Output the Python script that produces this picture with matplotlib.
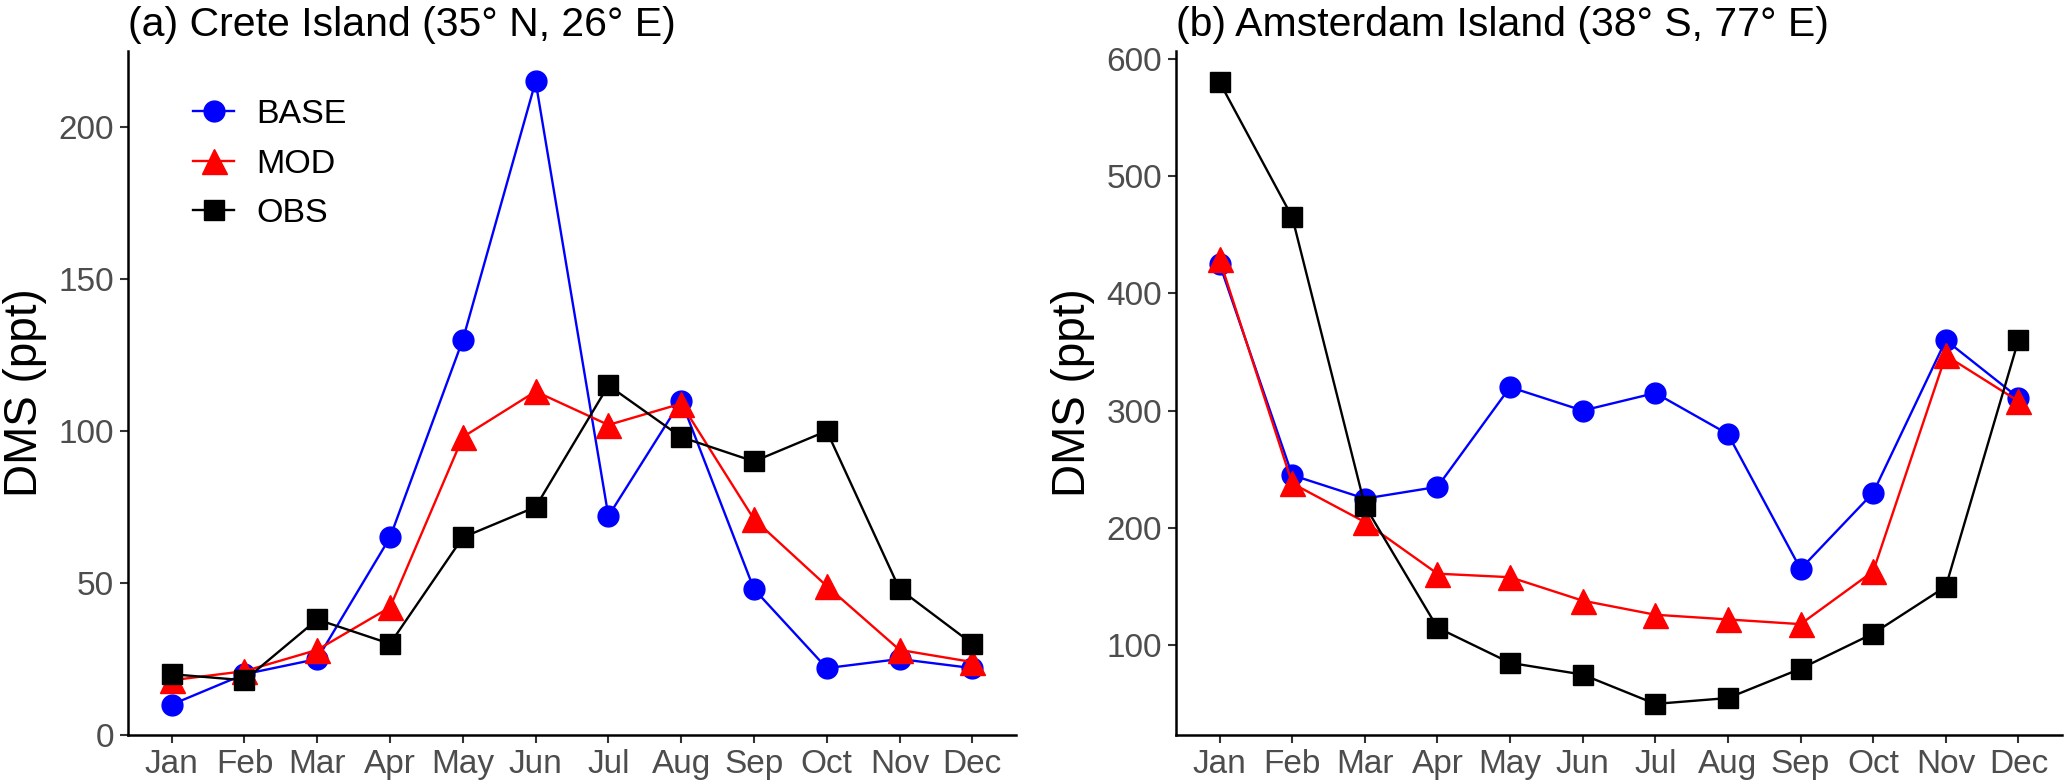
import matplotlib.pyplot as plt
import numpy as np

plt.rcParams['font.family'] = ['Liberation Sans', 'DejaVu Sans']

months = ['Jan', 'Feb', 'Mar', 'Apr', 'May', 'Jun', 'Jul', 'Aug', 'Sep', 'Oct', 'Nov', 'Dec']

# (a) Crete Island
crete_base = [10, 20, 25, 65, 130, 215, 72, 110, 48, 22, 25, 22]
crete_mod = [18, 21, 28, 42, 98, 113, 102, 109, 71, 49, 28, 24]
crete_obs = [20, 18, 38, 30, 65, 75, 115, 98, 90, 100, 48, 30]

# (b) Amsterdam Island
ams_base = [425, 245, 225, 235, 320, 300, 315, 280, 165, 230, 360, 311]
ams_mod = [429, 238, 205, 161, 158, 138, 126, 122, 118, 163, 347, 308]
ams_obs = [580, 465, 219, 115, 85, 75, 50, 55, 80, 110, 150, 360]

titles = ['(a) Crete Island (35° N, 26° E)', '(b) Amsterdam Island (38° S, 77° E)']

W, H = 2067, 784
fig = plt.figure(figsize=(W / 100, H / 100), dpi=100)

ax1 = fig.add_axes([128 / W, 1 - 735 / H, (1016 - 128) / W, (735 - 51) / H])
ax2 = fig.add_axes([1176 / W, 1 - 735 / H, (2062 - 1176) / W, (735 - 51) / H])

x = np.arange(len(months))
series = [
    ('BASE', 'o', '#0000FF', 15),
    ('MOD', '^', '#FF0000', 18),
    ('OBS', 's', '#000000', 15),
]

for ax, data, ylim, yt, title in [
    (ax1, [crete_base, crete_mod, crete_obs], (0, 225), [0, 50, 100, 150, 200], titles[0]),
    (ax2, [ams_base, ams_mod, ams_obs], (23.5, 606.5), [100, 200, 300, 400, 500, 600], titles[1]),
]:
    for (lab, mk, col, ms), vals in zip(series, data):
        ax.plot(x, vals, color=col, marker=mk, markersize=ms, linewidth=1.7, label=lab)
    ax.set_xlim(-0.6, 11.6)
    ax.set_ylim(*ylim)
    ax.set_yticks(yt)
    ax.set_xticks(x)
    ax.set_xticklabels(months)
    for s in ['top', 'right']:
        ax.spines[s].set_visible(False)
    for s in ['left', 'bottom']:
        ax.spines[s].set_linewidth(1.8)
    ax.tick_params(labelsize=24, labelcolor='#4D4D4D', color='#333333', length=6, width=1.5, pad=4)
    ax.set_ylabel('DMS (ppt)', fontsize=33, labelpad=8)
    ax.set_title(title, fontsize=29.5, loc='left', pad=11)

ax1.legend(loc='upper left', bbox_to_anchor=(0.0735, 0.93), frameon=False, fontsize=24.5,
           handlelength=1.2, handletextpad=0.66, labelspacing=0.55, borderpad=0, borderaxespad=0)

fig.savefig('out.png', dpi=100)
